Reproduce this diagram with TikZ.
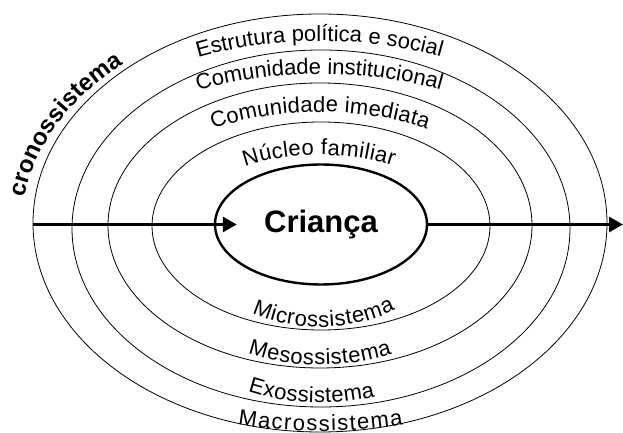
\documentclass[tikz,border=0pt]{standalone}
\usepackage{fontspec}
\setmainfont{Liberation Sans}
\usepackage{tikz}
\usetikzlibrary{shapes.geometric}
\usetikzlibrary{arrows.meta}
\usetikzlibrary{decorations.text}
\newcommand{\lbl}{\fontsize{22}{26}\selectfont}
\newcommand{\lblbold}{\fontsize{24}{28}\selectfont\bfseries}

\begin{document}
\begin{tikzpicture}[x=1pt,y=1pt,
    ring/.style={line width=0.8pt},
    arctext/.style={decorate,decoration={text along path,text align={fit to path},text={#1}}},
    flow/.style={line width=3pt,-{Triangle[length=14pt,width=15pt]}}]
                \useasboundingbox (0,0) rectangle (623,433);
                \clip (0,0) rectangle (623,433);

                % anneaux
                \draw[ring] (320,210) ellipse [x radius=287, y radius=209];
                \draw[ring] (321,204.5) ellipse [x radius=249, y radius=178.5];
                \draw[ring] (320,207.5) ellipse [x radius=212, y radius=142.5];
                \draw[ring] (321,207) ellipse [x radius=169, y radius=104];

                \node[ellipse,draw,line width=2.4pt,minimum width=212pt,minimum height=120pt,inner sep=0pt,
                      font=\fontsize{31}{35}\selectfont\bfseries] (crianca) at (321,208.5) {Criança};

                \coordinate (in) at (33,208.5);
                \coordinate (out) at (623,208.5);
                \draw[flow] (in) -- ([xshift=23pt]crianca.west);
                \draw[flow] (crianca.east) -- (out);

                % textes du haut
                \path[arctext={|\lbl|Estrutura política e social},shift={(320,208)}]
                    (114.5:294 and 184) arc[start angle=114.5,end angle=65.9,x radius=294,y radius=184];
                \path[arctext={|\lbl|Comunidade institucional},shift={(320,208)}]
                    (117.1:268 and 151) arc[start angle=117.1,end angle=63.4,x radius=268,y radius=151];
                \path[arctext={|\lbl|Comunidade imediata},shift={(320,208)}]
                    (121.7:204 and 113) arc[start angle=121.7,end angle=58.3,x radius=204,y radius=113];
                \path[arctext={|\lbl|Núcleo familiar},shift={(320,208)}]
                    (123.5:136 and 70) arc[start angle=123.5,end angle=57.5,x radius=136,y radius=70];

                % textes du bas
                \path[arctext={|\lbl|Microssistema},shift={(320,208)}]
                    (239.7:135 and 102) arc[start angle=239.7,end angle=303.8,x radius=135,y radius=102];
                \path[arctext={|\lbl|Mesossistema},shift={(320,208)}]
                    (246.8:183 and 140) arc[start angle=246.8,end angle=293.2,x radius=183,y radius=140];
                \path[arctext={|\lbl|Exossistema},shift={(320,208)}]
                    (249.5:206 and 178) arc[start angle=249.5,end angle=285.5,x radius=206,y radius=178];
                \path[arctext={|\lbl|Macrossistema},shift={(320,208)}]
                    (255.6:330 and 206) arc[start angle=255.6,end angle=284.6,x radius=330,y radius=206];

                \path[arctext={|\lblbold|cronossistema},shift={(320,208)}]
                    (172.7:297.4 and 214) arc[start angle=172.7,end angle=131.2,x radius=297.4,y radius=214];
            \end{tikzpicture}
\end{document}
